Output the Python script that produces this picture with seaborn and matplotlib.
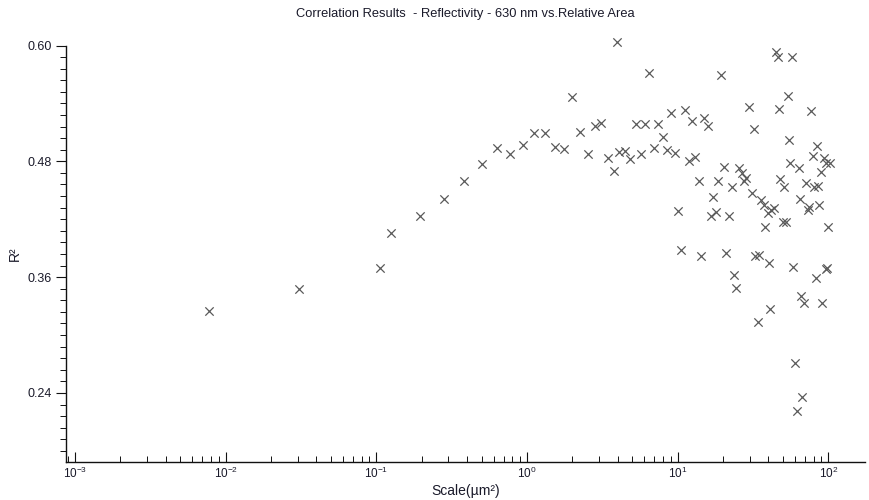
import matplotlib
matplotlib.use("Agg")
import matplotlib.pyplot as plt
from matplotlib.ticker import MultipleLocator, LogLocator, NullFormatter
import numpy as np
import pandas as pd
import seaborn as sns

# Scale (µm²) of each relative-area sample and its correlation R²
scale_um2 = [
    0.00776, 0.0307, 0.106, 0.125, 0.195, 0.281, 0.382, 0.503, 0.632, 0.771,
    0.941, 1.113, 1.316, 1.534, 1.761, 1.989, 2.247, 2.540, 2.827, 3.097,
    3.447, 3.778, 3.955, 4.078, 4.470, 4.826, 5.288, 5.708, 6.067, 6.451,
    6.962, 7.400, 7.989, 8.492, 9.027, 9.596, 10.05, 10.52, 11.18, 11.89,
    12.44, 13.03, 13.85, 14.27, 14.95, 15.89, 16.63, 17.15, 17.95, 18.51,
    19.38, 20.29, 20.92, 21.90, 22.93, 23.64, 24.37, 25.52, 26.71, 28.39,
    27.54, 29.73, 31.12, 32.09, 32.58, 34.11, 34.64, 35.71, 37.39, 40.35,
    40.97, 39.73, 41.60, 43.55, 37.96, 44.90, 46.29, 47.00, 47.73, 50.75,
    49.98, 52.33, 53.95, 54.78, 55.62, 57.35, 58.23, 60.04, 61.89, 63.81,
    64.79, 65.79, 66.80, 68.87, 71.02, 73.22, 74.35, 76.65, 79.03, 80.25,
    84.03, 85.32, 82.75, 86.61, 89.31, 90.68, 93.51, 96.41, 97.88, 97.00,
    102.5, 99.38,
]
r_squared = [
    0.325, 0.348, 0.370, 0.406, 0.423, 0.441, 0.460, 0.477, 0.494, 0.488,
    0.497, 0.509, 0.509, 0.495, 0.493, 0.547, 0.510, 0.488, 0.517, 0.520,
    0.483, 0.470, 0.604, 0.490, 0.491, 0.482, 0.519, 0.488, 0.519, 0.572,
    0.494, 0.519, 0.505, 0.492, 0.530, 0.489, 0.429, 0.388, 0.533, 0.480,
    0.522, 0.484, 0.460, 0.382, 0.525, 0.517, 0.423, 0.443, 0.428, 0.460,
    0.569, 0.474, 0.385, 0.423, 0.453, 0.362, 0.349, 0.473, 0.468, 0.463,
    0.460, 0.536, 0.447, 0.513, 0.382, 0.314, 0.383, 0.440, 0.435, 0.375,
    0.327, 0.426, 0.430, 0.432, 0.412, 0.593, 0.588, 0.534, 0.462, 0.453,
    0.417, 0.417, 0.548, 0.502, 0.478, 0.588, 0.371, 0.271, 0.221, 0.473,
    0.441, 0.340, 0.236, 0.333, 0.458, 0.430, 0.433, 0.532, 0.486, 0.453,
    0.496, 0.454, 0.359, 0.435, 0.469, 0.333, 0.483, 0.368, 0.370, 0.478,
    0.478, 0.412,
]

y_ticks = [0.24, 0.36, 0.48, 0.60]
x_tick_exponents = [-3, -2, -1, 0, 1, 2]

df = pd.DataFrame({"scale": scale_um2, "r2": r_squared})

sns.set_style("white")
plt.rcParams["font.family"] = ["Liberation Sans", "DejaVu Sans"]
plt.rcParams["mathtext.fontset"] = "custom"
plt.rcParams["mathtext.rm"] = "Liberation Sans"
plt.rcParams["mathtext.it"] = "Liberation Sans"

fig = plt.figure(figsize=(8.69, 5.0), dpi=100)
ax = fig.add_axes([0.0760, 0.076, 0.9194, 0.833])

# markers are not clipped: values just above 0.60 still show over the axis
sns.scatterplot(data=df, x="scale", y="r2", marker="x", s=36,
                color="#5a5a5a", linewidth=0.9, ax=ax, legend=False,
                clip_on=False)

ax.set_xscale("log")
ax.set_xlim(10 ** -3.059, 10 ** 2.243)
ax.set_ylim(0.1685, 0.60)

# spines: only left and bottom axis lines
for side in ("top", "right"):
    ax.spines[side].set_visible(False)
for side in ("left", "bottom"):
    ax.spines[side].set_color("#111111")
    ax.spines[side].set_linewidth(1.0)

ax.set_yticks(y_ticks)
ax.set_yticklabels([f"{v:.2f}" for v in y_ticks])
ax.yaxis.set_minor_locator(MultipleLocator(0.012))
ax.tick_params(axis="y", which="major", left=True, direction="out", length=7,
               width=0.8, color="#111111", labelsize=9, labelcolor="#1a1a2a",
               pad=3)
ax.tick_params(axis="y", which="minor", left=True, direction="out", length=4,
               width=0.7, color="#111111")

ax.set_xticks([10.0 ** e for e in x_tick_exponents])
ax.set_xticklabels([f"$10^{{{e}}}$" for e in x_tick_exponents])
ax.xaxis.set_minor_locator(LogLocator(base=10, subs=np.arange(2, 10)))
ax.xaxis.set_minor_formatter(NullFormatter())
ax.tick_params(axis="x", which="major", bottom=True, direction="in", length=7,
               width=0.8, color="#111111", labelsize=8.5, labelcolor="#1a1a2a",
               pad=3)
ax.tick_params(axis="x", which="minor", bottom=True, direction="in", length=4,
               width=0.7, color="#111111")

ax.set_xlabel("Scale(µm²)", fontsize=10, color="#1a1a2a", labelpad=2)
ax.set_ylabel("R²", fontsize=10, color="#1a1a2a", labelpad=4)
ax.grid(False)

fig.text(0.536, 0.972, "Correlation Results  - Reflectivity - 630 nm vs.Relative Area",
         ha="center", va="center", fontsize=9.3, color="#1a1a2a")

fig.savefig("out.png", dpi=100, facecolor="white")
